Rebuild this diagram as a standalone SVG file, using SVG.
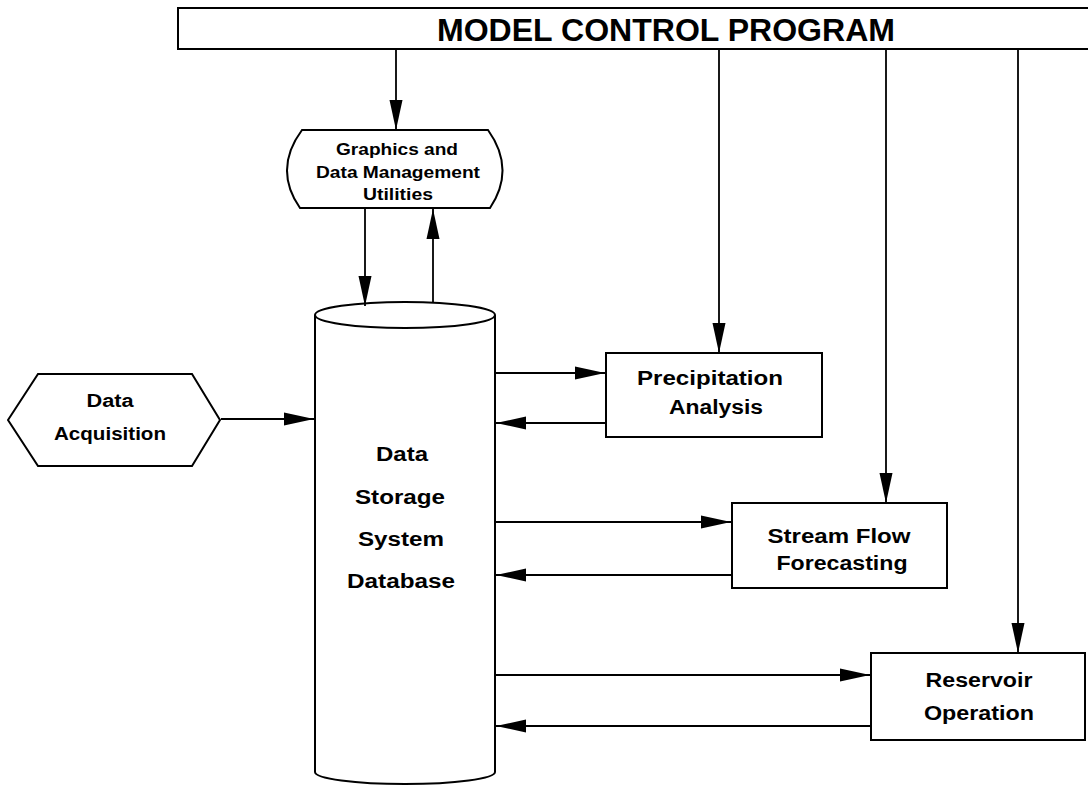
<svg xmlns="http://www.w3.org/2000/svg" width="1088" height="786" viewBox="0 0 1088 786">
<style>
  .shape { fill: #fff; stroke: #000; stroke-width: 2; }
  .conn { fill: none; stroke: #000; stroke-width: 1.8; }
  .lbl { font-family: "Liberation Sans", Arial, sans-serif; font-weight: bold; fill: #000; text-anchor: middle; }
  .t16 { font-size: 16px; }
  .t18 { font-size: 18px; }
  .t20 { font-size: 20px; }
  .title { font-size: 31px; }
</style>
<defs>
  <marker id="arr" markerUnits="userSpaceOnUse" markerWidth="30" markerHeight="14" refX="30" refY="7" orient="auto">
    <path d="M0,0.5 L30,7 L0,13.5 Z" fill="#000"/>
  </marker>
</defs>
<rect width="1088" height="786" fill="#fff"/>

<g id="model-control-program">
  <rect class="shape" x="178" y="8" width="930" height="41"/>
  <text class="lbl title" x="666" y="41" textLength="458" lengthAdjust="spacingAndGlyphs">MODEL CONTROL PROGRAM</text>
</g>

<g id="graphics-utilities">
  <path class="shape" d="M302,130 L488,130 Q516,169 490,208 L300,208 Q273,169 302,130 Z"/>
  <text class="lbl t16" x="397" y="155" textLength="122" lengthAdjust="spacingAndGlyphs">Graphics and</text>
  <text class="lbl t16" x="398" y="178" textLength="164" lengthAdjust="spacingAndGlyphs">Data Management</text>
  <text class="lbl t16" x="398" y="200" textLength="70" lengthAdjust="spacingAndGlyphs">Utilities</text>
</g>

<g id="data-storage">
  <path class="shape" d="M315,315 L315,772 A90,12 0 0 0 495,772 L495,315"/>
  <ellipse class="shape" cx="405" cy="315" rx="90" ry="13"/>
  <text class="lbl t20" x="402" y="461" textLength="52" lengthAdjust="spacingAndGlyphs">Data</text>
  <text class="lbl t20" x="400" y="504" textLength="90" lengthAdjust="spacingAndGlyphs">Storage</text>
  <text class="lbl t20" x="401" y="546" textLength="86" lengthAdjust="spacingAndGlyphs">System</text>
  <text class="lbl t20" x="401" y="588" textLength="108" lengthAdjust="spacingAndGlyphs">Database</text>
</g>

<g id="data-acquisition">
  <polygon class="shape" points="8,420 38,374 192,374 220,420 192,466 38,466"/>
  <text class="lbl t18" x="110" y="407" textLength="47" lengthAdjust="spacingAndGlyphs">Data</text>
  <text class="lbl t18" x="110" y="440" textLength="112" lengthAdjust="spacingAndGlyphs">Acquisition</text>
</g>

<g id="precipitation-analysis">
  <rect class="shape" x="606" y="353" width="216" height="84"/>
  <text class="lbl t20" x="710" y="385" textLength="146" lengthAdjust="spacingAndGlyphs">Precipitation</text>
  <text class="lbl t20" x="716" y="414" textLength="94" lengthAdjust="spacingAndGlyphs">Analysis</text>
</g>

<g id="stream-flow-forecasting">
  <rect class="shape" x="732" y="503" width="215" height="85"/>
  <text class="lbl t20" x="839" y="543" textLength="143" lengthAdjust="spacingAndGlyphs">Stream Flow</text>
  <text class="lbl t20" x="842" y="570" textLength="131" lengthAdjust="spacingAndGlyphs">Forecasting</text>
</g>

<g id="reservoir-operation">
  <rect class="shape" x="871" y="653" width="214" height="87"/>
  <text class="lbl t20" x="979" y="687" textLength="107" lengthAdjust="spacingAndGlyphs">Reservoir</text>
  <text class="lbl t20" x="979" y="720" textLength="110" lengthAdjust="spacingAndGlyphs">Operation</text>
</g>

<g id="connectors">
  <line class="conn" x1="396" y1="49" x2="396" y2="130" marker-end="url(#arr)"/>
  <line class="conn" x1="719" y1="49" x2="719" y2="353" marker-end="url(#arr)"/>
  <line class="conn" x1="886" y1="49" x2="886" y2="503" marker-end="url(#arr)"/>
  <line class="conn" x1="1018" y1="49" x2="1018" y2="653" marker-end="url(#arr)"/>
  <line class="conn" x1="365" y1="208" x2="365" y2="306" marker-end="url(#arr)"/>
  <line class="conn" x1="433" y1="303" x2="433" y2="209" marker-end="url(#arr)"/>
  <line class="conn" x1="221" y1="419" x2="314" y2="419" marker-end="url(#arr)"/>
  <line class="conn" x1="495" y1="373" x2="605" y2="373" marker-end="url(#arr)"/>
  <line class="conn" x1="606" y1="423" x2="496" y2="423" marker-end="url(#arr)"/>
  <line class="conn" x1="495" y1="522" x2="731" y2="522" marker-end="url(#arr)"/>
  <line class="conn" x1="732" y1="575" x2="496" y2="575" marker-end="url(#arr)"/>
  <line class="conn" x1="495" y1="675" x2="870" y2="675" marker-end="url(#arr)"/>
  <line class="conn" x1="871" y1="726" x2="496" y2="726" marker-end="url(#arr)"/>
</g>
</svg>
